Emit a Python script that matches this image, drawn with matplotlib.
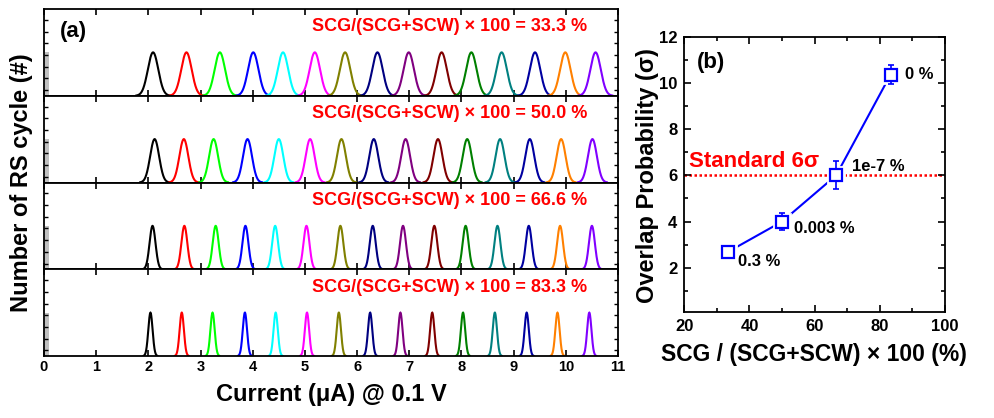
import numpy as np
import matplotlib
matplotlib.use("Agg")
import matplotlib.pyplot as plt
from matplotlib.ticker import MultipleLocator

plt.rcParams['font.family'] = ['Liberation Sans', 'DejaVu Sans']
plt.rcParams['font.weight'] = 'bold'

# ---------------- data: panel (a) ----------------
ratio_labels = ["33.3", "50.0", "66.6", "83.3"]
centers_333 = [2.09, 2.73, 3.37, 4.01, 4.58, 5.19, 5.77, 6.39, 6.99, 7.62, 8.19, 8.77, 9.41, 9.99, 10.57]
centers_500 = [2.12, 2.68, 3.25, 3.90, 4.50, 5.10, 5.70, 6.32, 6.93, 7.55, 8.11, 8.74, 9.31, 9.91, 10.51]
centers_666 = [2.08, 2.69, 3.29, 3.86, 4.43, 5.03, 5.68, 6.30, 6.88, 7.48, 8.08, 8.69, 9.29, 9.89, 10.50]
centers_833 = [2.04, 2.64, 3.23, 3.85, 4.44, 5.04, 5.65, 6.25, 6.83, 7.44, 8.03, 8.64, 9.25, 9.84, 10.45]
peak_sigmas = [0.10, 0.086, 0.057, 0.041]
peak_height = 1.0
gray_bar_left = 0.02
gray_bar_width = 0.07
level_colors = ["#000000", "#FF0000", "#00FF00", "#0000FF", "#00FFFF", "#FF00FF",
                "#808000", "#000080", "#800080", "#800000", "#008000", "#008080",
                "#0000A0", "#FF8000", "#8000FF"]

# ---------------- data: panel (b) ----------------
scg_ratio = [33.3, 50.0, 66.6, 83.3]
overlap_sigma = [2.68, 4.0, 6.0, 10.36]
overlap_err = [0.1, 0.37, 0.6, 0.42]
overlap_prob_labels = ["0.3 %", "0.003 %", "1e-7 %", "0 %"]
standard_sigma = 6

fig = plt.figure(figsize=(9.95, 4.18), dpi=100)

# ---------------- panel (a) ----------------
a_left, a_right = 44 / 995, 618 / 995
a_top, a_bot = 1 - 9 / 418, 1 - 356 / 418
h = (a_top - a_bot) / 4
all_centers = [centers_333, centers_500, centers_666, centers_833]
axes_a = []
for i in range(4):
    ax = fig.add_axes([a_left, a_top - (i + 1) * h, a_right - a_left, h])
    axes_a.append(ax)
    sig = peak_sigmas[i]
    for c, col in zip(all_centers[i], level_colors):
        x = np.linspace(c - 3.2 * sig, c + 3.2 * sig, 200)
        y = peak_height * np.exp(-0.5 * ((x - c) / sig) ** 2)
        ax.plot(x, y, color=col, lw=1.5, solid_joinstyle='miter')
    ax.bar(gray_bar_left, peak_height, width=gray_bar_width, align='edge',
           color='#C0C0C0', edgecolor='none', zorder=1)
    ax.set_xlim(0, 11)
    ax.set_ylim(0, 2.0)
    ax.xaxis.set_major_locator(MultipleLocator(1))
    ax.set_yticks(np.arange(0.13, 2.0, 0.27))
    ax.tick_params(axis='x', direction='in', top=True, bottom=True, length=4,
                   width=1.2, labelbottom=(i == 3), labelsize=10.5, pad=3)
    ax.tick_params(axis='y', direction='in', left=True, right=True, length=3,
                   width=1.0, labelleft=False)
    for s in ax.spines.values():
        s.set_linewidth(1.3)
    ax.text(10.41, 1.59, f"SCG/(SCG+SCW) × 100 = {ratio_labels[i]} %",
            color='#FF0000', fontsize=13, fontweight='bold', ha='right', va='center')
    for lab in ax.get_xticklabels():
        lab.set_fontweight('bold')

axes_a[0].text(0.31, 1.47, "(a)", fontsize=16, fontweight='bold', va='center')
fig.text(22 / 995, (a_top + a_bot) / 2, "Number of RS cycle (#)", rotation=90,
         fontsize=17, fontweight='bold', ha='center', va='center')
fig.text((a_left + a_right) / 2, 1 - 395 / 418, "Current (μA) @ 0.1 V",
         fontsize=17, fontweight='bold', ha='center', va='center')

# ---------------- panel (b) ----------------
axb = fig.add_axes([684.3 / 995, 1 - 311.7 / 418, (945 - 684.3) / 995, (311.7 - 36.7) / 418])
axb.axhline(standard_sigma, color='#FF0000', lw=1.8, linestyle=(0, (1, 1)), zorder=1)
axb.plot(scg_ratio, overlap_sigma, color='#0000FF', lw=1.5, zorder=2)
axb.plot(scg_ratio, overlap_sigma, linestyle='none', marker='s', ms=12,
         mfc='white', mec='white', mew=2, zorder=3)
axb.errorbar(scg_ratio, overlap_sigma, yerr=overlap_err, fmt='none',
             ecolor='#0000FF', elinewidth=1.2, capsize=2.5, capthick=1.2, zorder=4)
axb.plot(scg_ratio, overlap_sigma, linestyle='none', marker='s', ms=8.5,
         mfc='white', mec='#0000FF', mew=1.6, zorder=5)
axb.set_xlim(20, 100)
axb.set_ylim(0.1, 12)
axb.xaxis.set_major_locator(MultipleLocator(20))
axb.xaxis.set_minor_locator(MultipleLocator(10))
axb.yaxis.set_major_locator(MultipleLocator(2))
axb.yaxis.set_minor_locator(MultipleLocator(1))
axb.tick_params(which='both', direction='in', top=True, right=True, width=1.2)
axb.tick_params(which='major', length=5, labelsize=12, pad=5)
axb.tick_params(which='minor', length=3)
for s in axb.spines.values():
    s.set_linewidth(1.3)
for lab in axb.get_xticklabels() + axb.get_yticklabels():
    lab.set_fontweight('bold')

label_pos = [(36.6, 2.26), (53.7, 3.7), (71.6, 6.4), (87.7, 10.36)]
for (lx, ly), txt in zip(label_pos, overlap_prob_labels):
    axb.text(lx, ly, txt, fontsize=12, fontweight='bold', ha='left', va='center')
axb.text(21.5, 6.59, "Standard 6σ", color='#FF0000', fontsize=16,
         fontweight='bold', ha='left', va='center')
axb.text(23.8, 10.9, "(b)", fontsize=16, fontweight='bold', ha='left', va='center')
fig.text(648 / 995, 1 - 176 / 418, "Overlap Probability (σ)", rotation=90,
         fontsize=17, fontweight='bold', ha='center', va='center')
fig.text(814 / 995, 1 - 355 / 418, "SCG / (SCG+SCW) × 100 (%)",
         fontsize=16.5, fontweight='bold', ha='center', va='center')

fig.savefig("out.png", dpi=100)
